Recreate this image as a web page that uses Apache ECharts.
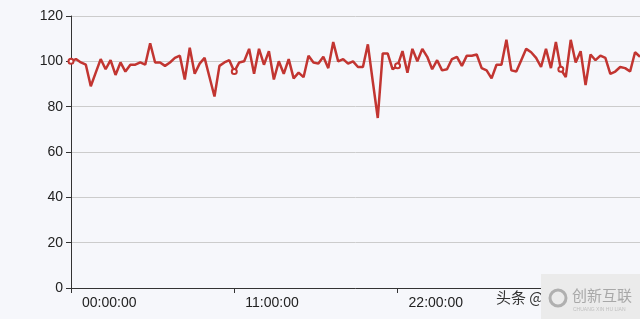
<!DOCTYPE html>
<html>
<head>
<meta charset="utf-8">
<script src="https://cdn.jsdelivr.net/npm/echarts@6/dist/echarts.min.js"></script>
<style>
html,body{margin:0;padding:0;background:#f6f7fb;}
#chart{width:640px;height:319px;}
</style>
</head>
<body>
<div id="chart"></div>
<script>
const categories = [
'00:00:00','00:20:00','00:40:00','01:00:00','01:20:00','01:40:00','02:00:00','02:20:00','02:40:00','03:00:00','03:20:00','03:40:00',
'04:00:00','04:20:00','04:40:00','05:00:00','05:20:00','05:40:00','06:00:00','06:20:00','06:40:00','07:00:00','07:20:00','07:40:00',
'08:00:00','08:20:00','08:40:00','09:00:00','09:20:00','09:40:00','10:00:00','10:20:00','10:40:00','11:00:00','11:20:00','11:40:00',
'12:00:00','12:20:00','12:40:00','13:00:00','13:20:00','13:40:00','14:00:00','14:20:00','14:40:00','15:00:00','15:20:00','15:40:00',
'16:00:00','16:20:00','16:40:00','17:00:00','17:20:00','17:40:00','18:00:00','18:20:00','18:40:00','19:00:00','19:20:00','19:40:00',
'20:00:00','20:20:00','20:40:00','21:00:00','21:20:00','21:40:00','22:00:00','22:20:00','22:40:00','23:00:00','23:20:00','23:40:00',
'00:00:00','00:20:00','00:40:00','01:00:00','01:20:00','01:40:00','02:00:00','02:20:00','02:40:00','03:00:00','03:20:00','03:40:00',
'04:00:00','04:20:00','04:40:00','05:00:00','05:20:00','05:40:00','06:00:00','06:20:00','06:40:00','07:00:00','07:20:00','07:40:00',
'08:00:00','08:20:00','08:40:00','09:00:00','09:20:00','09:40:00','10:00:00','10:20:00','10:40:00','11:00:00','11:20:00','11:40:00',
'12:00:00','12:20:00','12:40:00','13:00:00','13:20:00','13:40:00','14:00:00','14:20:00'
];
const values = [
100,101,99.5,98.5,89,95,101,96.5,100.5,94,99.5,95.5,
98.5,98.5,99.5,98.5,108,99.5,99.5,98,99.5,101.5,102.5,92,
106,94.5,99,101.5,93,84.5,98,99.5,100.5,95.5,99.5,100,
105.5,94.5,105.5,98.5,104.5,92,100,94.5,101,92.5,95,93,
102.5,99.5,99,102,97,108.5,100,101,99,100,97.5,97.5,
107.5,91,75,103.5,103.5,96.5,98,104.5,95,105.5,100,105.5,
102,96.5,100.5,96,96.5,101,102,98,102.5,102.5,103,97,
96,92.5,98.5,98.5,109.5,96,95.5,100.5,105.5,104,101.5,97.5,
105.5,97,108.5,96.5,93,109.5,99.5,104.5,89.5,103,100.5,102.5,
101.5,94.5,95.5,97.5,97,95.5,104,102
];
const yTicks = [0, 20, 40, 60, 80, 100, 120];
const labelEvery = 33;

const chart = echarts.init(document.getElementById('chart'), null, {renderer: 'canvas'});
const font = '"Liberation Sans", Arial, Helvetica, sans-serif';
const pick = function (idx) { return idx % labelEvery === 0; };
chart.setOption({
  animation: false,
  backgroundColor: '#f6f7fb',
  grid: {left: 71, right: 0, top: 16, bottom: 31, containLabel: false, outerBoundsMode: 'none'},
  xAxis: {
    type: 'category',
    data: categories,
    boundaryGap: false,
    axisLine: {show: true, lineStyle: {color: '#333', width: 1}},
    axisTick: {show: true, interval: pick, length: 5, lineStyle: {color: '#333'}},
    axisLabel: {interval: pick, showMinLabel: true, showMaxLabel: false, hideOverlap: false,
      color: '#222', fontSize: 14, fontFamily: font, align: 'left', padding: [0, 0, 0, 11], margin: 8},
    minorTick: {show: false},
    splitLine: {show: false}
  },
  yAxis: {
    type: 'value',
    min: yTicks[0],
    max: yTicks[yTicks.length - 1],
    interval: 20,
    axisLine: {show: true, lineStyle: {color: '#333', width: 1}},
    axisTick: {show: true, length: 5, lineStyle: {color: '#333'}},
    axisLabel: {color: '#222', fontSize: 14, fontFamily: font, margin: 8},
    splitLine: {show: true, lineStyle: {color: '#cccccc', width: 1}}
  },
  series: [{
    type: 'line',
    data: values,
    symbol: 'emptyCircle',
    symbolSize: 5,
    showAllSymbol: 'auto',
    itemStyle: {color: '#c23531', borderWidth: 1},
    lineStyle: {color: '#c23531', width: 2.5},
    emphasis: {disabled: true}
  }],
  graphic: [
    {type: 'text', left: 496, top: 290, z: 100,
     style: {text: '头条 @', fill: '#333', font: '15px "Noto Sans CJK SC", sans-serif'}},
    {type: 'rect', z: 101, shape: {x: 541, y: 274, width: 99, height: 45},
     style: {fill: '#ebebeb'}},
    {type: 'circle', z: 102, shape: {cx: 558, cy: 298, r: 8},
     style: {fill: 'none', stroke: '#b0b0b0', lineWidth: 3}},
    {type: 'text', z: 102, left: 572, top: 288,
     style: {text: '创新互联', fill: '#a8a8a8', font: '15px "Noto Sans CJK SC", sans-serif'}},
    {type: 'text', z: 102, left: 573, top: 307,
     style: {text: 'CHUANG XIN HU LIAN', fill: '#c0c0c0', font: '5px sans-serif'}}
  ]
});
</script>
</body>
</html>
